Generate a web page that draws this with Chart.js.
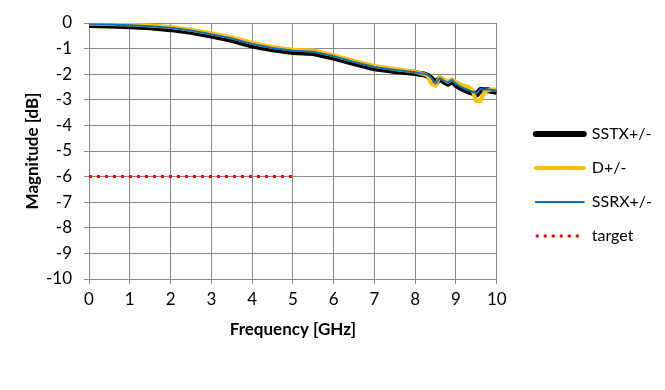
<!DOCTYPE html>
<html>
<head>
<meta charset="utf-8">
<script src="https://cdn.jsdelivr.net/npm/chart.js@4.4.0/dist/chart.umd.min.js"></script>
<style>
  html, body { margin: 0; padding: 0; background: #fff; }
  #wrap { width: 665px; height: 390px; }
</style>
</head>
<body>
<div id="wrap"><canvas id="insertionLoss"></canvas></div>
<script>
"use strict";

// frequency points in GHz
var freqGHz = [0, 0.5, 1, 1.5, 2, 2.5, 3, 3.5, 4, 4.5, 5, 5.5, 6, 6.5, 7, 7.5, 8,
    8.1, 8.2, 8.3, 8.4, 8.5, 8.6, 8.7, 8.8, 8.9, 9, 9.1, 9.2, 9.3, 9.4, 9.5, 9.6, 9.7, 9.8, 9.9, 10];

// magnitude in dB
var sstx = [-0.08, -0.1, -0.13, -0.17, -0.24, -0.34, -0.49, -0.66, -0.88, -1.03, -1.13, -1.17, -1.35, -1.57, -1.77, -1.88, -1.95,
    -1.98, -2.0, -2.06, -2.18, -2.34, -2.17, -2.28, -2.37, -2.26, -2.42, -2.52, -2.6, -2.67, -2.72, -2.8, -2.62, -2.63, -2.63, -2.66, -2.69];
var dPlusMinus = [-0.03, -0.04, -0.06, -0.1, -0.16, -0.26, -0.4, -0.56, -0.78, -0.94, -1.04, -1.07, -1.26, -1.48, -1.68, -1.8, -1.9,
    -1.95, -1.98, -2.06, -2.38, -2.45, -2.1, -2.2, -2.3, -2.2, -2.3, -2.4, -2.45, -2.5, -2.62, -3.05, -3.05, -2.68, -2.62, -2.6, -2.6];
var ssrx = [-0.05, -0.06, -0.09, -0.13, -0.19, -0.29, -0.44, -0.6, -0.82, -0.98, -1.08, -1.12, -1.3, -1.52, -1.72, -1.84, -1.92,
    -1.96, -1.97, -2.02, -2.15, -2.36, -2.15, -2.25, -2.33, -2.22, -2.38, -2.48, -2.56, -2.62, -2.68, -2.75, -2.58, -2.6, -2.6, -2.62, -2.65];

var targetFreq = [0, 5];
var targetDb = [-6, -6];

function pairs(xs, ys) {
    var out = [];
    for (var i = 0; i < xs.length; i++) out.push({ x: xs[i], y: ys[i] });
    return out;
}

var FONT = "Lato, 'Open Sans', sans-serif";
var majorGrid = "#8a8a8a", minorGrid = "#c6c6c6";

function isMajor(ctx) {
    var v = ctx.tick ? ctx.tick.value : 0;
    return Math.abs(v - Math.round(v)) < 1e-6;
}

// leave a gap between the plot and the legend, like the spreadsheet does
var legendGap = {
    id: "legendGap",
    afterLayout: function(chart) {
        var lg = chart.legend;
        if (!lg) return;
        var dx = chart.chartArea.right + 21 - lg.left;
        lg.left += dx;
        lg.right += dx;
    }
};

new Chart(document.getElementById("insertionLoss").getContext("2d"), {
    type: "line",
    plugins: [legendGap],
    data: {
        datasets: [{
            label: "SSTX+/-",
            data: pairs(freqGHz, sstx),
            borderColor: "#000000",
            borderWidth: 6,
            order: 3
        }, {
            label: "D+/-",
            data: pairs(freqGHz, dPlusMinus),
            borderColor: "#ffc000",
            borderWidth: 4,
            order: 2
        }, {
            label: "SSRX+/-",
            data: pairs(freqGHz, ssrx),
            borderColor: "#0a6fc0",
            borderWidth: 2,
            order: 1
        }, {
            label: "target",
            data: pairs(targetFreq, targetDb),
            borderColor: "#ff0000",
            borderWidth: 3,
            borderDash: [3, 5],
            order: 0
        }]
    },
    options: {
        responsive: true,
        maintainAspectRatio: false,
        animation: false,
        elements: {
            point: { radius: 0, hoverRadius: 0 },
            line: { tension: 0, fill: false, borderJoinStyle: "round" }
        },
        layout: {
            padding: { top: 23, bottom: 43, left: 22, right: 24 }
        },
        plugins: {
            legend: {
                position: "right",
                labels: {
                    usePointStyle: true,
                    pointStyle: "line",
                    pointStyleWidth: 48,
                    padding: 18,
                    color: "#000",
                    font: { family: FONT, size: 16 },
                    sort: function(a, b) { return a.datasetIndex - b.datasetIndex; },
                    generateLabels: function(chart) {
                        var items = Chart.defaults.plugins.legend.labels.generateLabels(chart);
                        items.forEach(function(it) {
                            var ds = chart.data.datasets[it.datasetIndex];
                            it.lineDash = ds.borderDash || [];
                            it.lineWidth = ds.borderWidth;
                            it.strokeStyle = ds.borderColor;
                            it.lineCap = ds.borderDash ? "butt" : "round";
                        });
                        return items;
                    }
                }
            },
            tooltip: { enabled: false }
        },
        scales: {
            x: {
                type: "linear",
                min: 0,
                max: 10,
                afterFit: function(scale) { scale.height = 68; },
                ticks: {
                    stepSize: 0.5,
                    padding: 5,
                    color: "#000",
                    maxRotation: 0,
                    font: { family: FONT, size: 17 },
                    callback: function(v) { return Number.isInteger(v) ? v : ""; }
                },
                grid: {
                    color: function(ctx) { return isMajor(ctx) ? majorGrid : minorGrid; },
                    tickColor: function(ctx) { return isMajor(ctx) ? majorGrid : "rgba(0,0,0,0)"; },
                    tickLength: 5,
                    lineWidth: 1
                },
                border: { color: majorGrid },
                title: {
                    display: true,
                    text: "Frequency [GHz]",
                    color: "#000",
                    font: { family: FONT, size: 17, weight: "bold", lineHeight: 2 },
                    padding: 0
                }
            },
            y: {
                min: -10,
                max: 0,
                afterFit: function(scale) { scale.width = 67; },
                ticks: {
                    stepSize: 0.5,
                    padding: 12,
                    color: "#000",
                    font: { family: FONT, size: 17 },
                    callback: function(v) { return Number.isInteger(v) ? v : ""; }
                },
                grid: {
                    color: function(ctx) { return isMajor(ctx) ? majorGrid : minorGrid; },
                    tickColor: function(ctx) { return isMajor(ctx) ? majorGrid : "rgba(0,0,0,0)"; },
                    tickLength: 5,
                    lineWidth: 1
                },
                border: { color: majorGrid },
                title: {
                    display: true,
                    text: "Magnitude [dB]",
                    color: "#000",
                    font: { family: FONT, size: 17, weight: "bold" },
                    padding: 0
                }
            }
        }
    }
});
</script>
</body>
</html>
